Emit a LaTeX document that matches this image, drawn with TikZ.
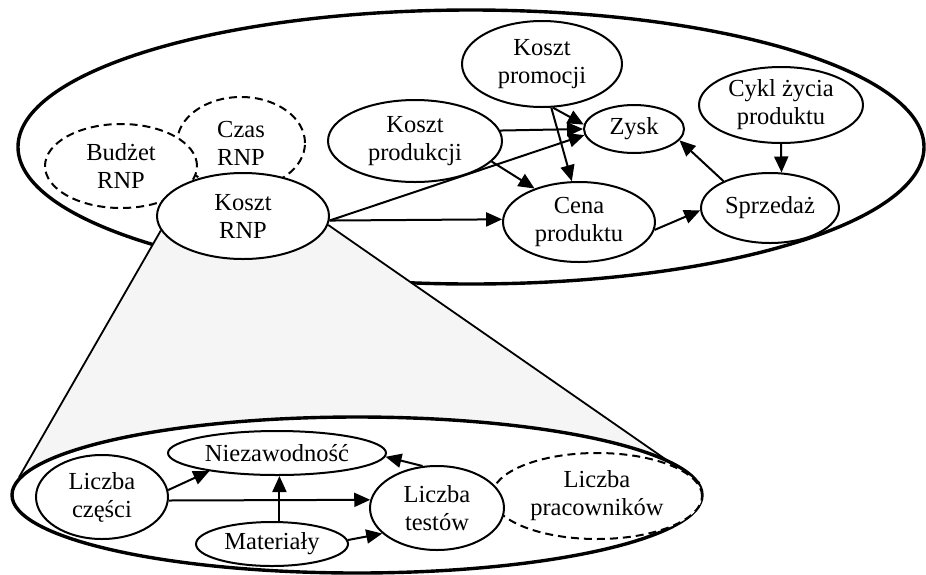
\documentclass[tikz,border=0pt]{standalone}
\usepackage{fontspec}
\setmainfont{Liberation Serif}
\usetikzlibrary{shapes.geometric,arrows.meta,backgrounds}
\begin{document}
\begin{tikzpicture}[x=1pt,y=-1pt,
  el/.style={ellipse,draw,line width=2pt,fill=white,inner sep=0pt,align=center,
    font=\fontsize{24.5}{28}\selectfont},
  dsh/.style={el,dash pattern=on 8pt off 5pt},
  big/.style={ellipse,draw,line width=3.4pt,inner sep=0pt},
  arr/.style={line width=2pt,-{Triangle[length=16pt,width=14pt]}},
  cone/.style={line width=1.8pt},
]
\useasboundingbox (0,0) rectangle (926,574);
% lower container
\node[big,fill=white,minimum width=690pt,minimum height=156pt] (low) at (357,495) {};
% upper nodes
\node[dsh,minimum width=128pt,minimum height=92pt] (czas) at (241,143) {Czas\\RNP};
\node[dsh,minimum width=152pt,minimum height=84pt] (budz) at (121,166) {Budżet\\RNP};
\node[el,minimum width=172pt,minimum height=86pt] (krnp) at (243,216) {Koszt\\RNP};
\node[el,minimum width=174pt,minimum height=82pt] (kprod) at (415,141) {Koszt\\produkcji};
\node[el,minimum width=160pt,minimum height=86pt] (kprom) at (542,64) {Koszt\\promocji};
\node[el,minimum width=100pt,minimum height=48pt] (zysk) at (634,129) {Zysk};
\node[el,minimum width=164pt,minimum height=76pt] (cykl) at (781,105) {Cykl życia\\produktu};
\node[el,minimum width=138pt,minimum height=70pt] (sprz) at (770,208) {Sprzedaż};
\node[el,minimum width=152pt,minimum height=80pt] (cena) at (579,222) {Cena\\produktu};
% lower nodes
\node[el,minimum width=218pt,minimum height=44pt] (niez) at (277,453) {Niezawodność};
\node[el,minimum width=132pt,minimum height=84pt] (lcz) at (102,497) {Liczba\\części};
\node[el,minimum width=152pt,minimum height=44pt] (mat) at (272,544) {Materiały};
\node[dsh,minimum width=210pt,minimum height=86pt] (lprac) at (597,496) {Liczba\\pracowników};
\node[el,minimum width=134pt,minimum height=84pt] (lt) at (437,508) {Liczba\\testów};
% background: top container and cone
\begin{pgfonlayer}{background}
\node[big,minimum width=906pt,minimum height=274pt] (top) at (471,147) {};
\fill[black!4] (krnp.190) -- (low.177) -- (low.2) -- (krnp.-6) -- cycle;
\draw[cone] (krnp.190) -- (low.177);
\draw[cone] (krnp.-6) -- (low.2);
\end{pgfonlayer}
% upper connectors
\draw[arr] (kprod.7) -- (zysk.180);
\draw[arr] (kprom.-76) -- (zysk.175);
\draw[arr] (kprom.-78) -- (cena.100);
\draw[arr] (kprod.-15) -- (cena.143);
\draw[arr] (krnp.-3) -- (zysk.187);
\draw[arr] (krnp.-3) -- (cena.178);
\draw[arr] (cena.-6) -- (sprz.182);
\draw[arr] (sprz.150) -- (zysk.-14);
\draw[arr] (cykl.south) -- (sprz.72);
% lower connectors
\draw[arr] (lcz.6) -- (niez.195);
\draw[arr] (lcz.-3) -- (lt.173);
\draw[arr] (mat.72) -- (mat.72 |- niez.south);
\draw[arr] (mat.3) -- (lt.205);
\draw[arr] (lt.109) -- (niez.-2);
\end{tikzpicture}
\end{document}
